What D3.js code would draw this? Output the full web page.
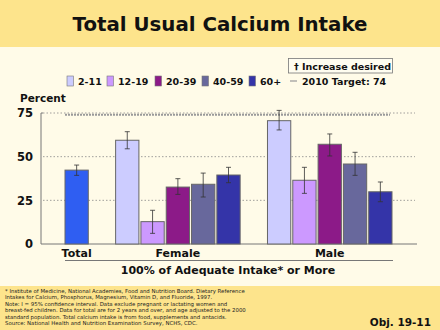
<!DOCTYPE html>
<html lang="en">
<head>
<meta charset="UTF-8"/>
<title>Total Usual Calcium Intake</title>
<script src="https://d3js.org/d3.v7.min.js"></script>
<style>
  body { margin: 0; background: #fffbe8; }
  svg { display: block; font-family: 'DejaVu Sans', Verdana, sans-serif; }
  .bold { font-weight: bold; }
</style>
</head>
<body>
<svg id="chart" width="440" height="330"></svg>
<script>
// data
const ageGroups = ['2-11', '12-19', '20-39', '40-59', '60+'];
const ageColors = ['#ccccff', '#cc99ff', '#8c1a88', '#68689c', '#3434a8'];
const totalColor = '#2f5ef2';

const totalValue = 42.3, totalLow = 39.3, totalHigh = 45.2;
const femaleValues = [59.4, 12.8, 32.6, 34.2, 39.5];
const femaleLow    = [54.5, 6.1, 28.4, 26.9, 35.1];
const femaleHigh   = [64.3, 19.3, 37.4, 40.6, 43.9];
const maleValues   = [70.6, 36.5, 57.1, 45.8, 29.9];
const maleLow      = [65.3, 29.0, 50.4, 39.3, 24.2];
const maleHigh     = [76.5, 43.9, 63.0, 52.5, 35.5];

const target = 74;
const yTicks = [0, 25, 50, 75];

const footnotes = [
  '* Institute of Medicine, National Academies, Food and Nutrition Board. Dietary Reference',
  'Intakes for Calcium, Phosphorus, Magnesium, Vitamin D, and Fluoride, 1997.',
  'Note: I = 95% confidence interval.  Data exclude pregnant or lactating women and',
  'breast-fed children. Data for total are for 2 years and over, and age adjusted to the 2000',
  'standard population. Total calcium intake is from food, supplements and antacids.',
  'Source: National Health and Nutrition Examination Survey, NCHS, CDC.'
];

// build bar rows
const bars = [{key: 'Total', value: totalValue, lo: totalLow, hi: totalHigh, color: totalColor}];
ageGroups.forEach((g, i) => bars.push({key: 'F ' + g, value: femaleValues[i], lo: femaleLow[i], hi: femaleHigh[i], color: ageColors[i]}));
ageGroups.forEach((g, i) => bars.push({key: 'M ' + g, value: maleValues[i], lo: maleLow[i], hi: maleHigh[i], color: ageColors[i]}));

const slots = ['Total', 'gap1'].concat(ageGroups.map(g => 'F ' + g), ['gap2'], ageGroups.map(g => 'M ' + g));

const svg = d3.select('#chart');

// title band
svg.append('rect').attr('x', 0).attr('y', 0).attr('width', 440).attr('height', 47).attr('fill', '#fde48c');
svg.append('text').attr('class', 'bold').attr('x', 220).attr('y', 31)
  .attr('text-anchor', 'middle').attr('font-size', 19.8).attr('fill', '#111')
  .text('Total Usual Calcium Intake');

// footer band
svg.append('rect').attr('x', 0).attr('y', 286).attr('width', 440).attr('height', 44).attr('fill', '#fde48c');
svg.append('g').selectAll('text').data(footnotes).join('text')
  .attr('x', 5).attr('y', (d, i) => 293 + i * 6.4)
  .attr('font-size', 5.4).attr('fill', '#222')
  .text(d => d);
svg.append('text').attr('class', 'bold').attr('x', 431).attr('y', 326)
  .attr('text-anchor', 'end').attr('font-size', 10.5).attr('fill', '#111')
  .text('Obj. 19-11');

// scales
const x = d3.scaleBand().domain(slots).range([65, 392]).paddingInner(0.08).paddingOuter(0);
const y = d3.scaleLinear().domain([0, 75]).range([244, 113]);

// gridlines
svg.append('g').selectAll('line').data(yTicks.filter(d => d > 0)).join('line')
  .attr('x1', 43).attr('x2', 415)
  .attr('y1', d => y(d)).attr('y2', d => y(d))
  .attr('stroke', '#888').attr('stroke-width', 0.8).attr('stroke-dasharray', '1.5,2');

// target line
svg.append('line')
  .attr('x1', x('Total')).attr('x2', x('M 60+') + x.bandwidth() - 2)
  .attr('y1', y(target)).attr('y2', y(target))
  .attr('stroke', '#9a9a9a').attr('stroke-width', 2).attr('stroke-dasharray', '2,1');

// y axis
const yAxis = d3.axisLeft(y).tickValues(yTicks).tickSize(0).tickPadding(8);
const gy = svg.append('g').attr('transform', 'translate(41,0)').call(yAxis);
gy.select('.domain').remove();
gy.selectAll('text').attr('class', 'bold').attr('font-size', 11.5).attr('fill', '#111')
  .attr('font-family', "'DejaVu Sans', Verdana, sans-serif");
svg.append('path').attr('d', `M43,${y(75)}H41V${y(0)}H417`)
  .attr('fill', 'none').attr('stroke', '#777').attr('stroke-width', 1);

svg.append('text').attr('class', 'bold').attr('x', 20).attr('y', 102)
  .attr('font-size', 10.5).attr('fill', '#111').text('Percent');

// bars
svg.append('g').selectAll('rect').data(bars).join('rect')
  .attr('x', d => x(d.key)).attr('width', x.bandwidth())
  .attr('y', d => y(d.value)).attr('height', d => y(0) - y(d.value))
  .attr('fill', d => d.color).attr('stroke', '#666').attr('stroke-width', 1);

// error bars
const eb = svg.append('g').attr('stroke', '#333').attr('stroke-width', 0.8);
bars.forEach(d => {
  const cx = x(d.key) + x.bandwidth() / 2;
  eb.append('line').attr('x1', cx).attr('x2', cx).attr('y1', y(d.hi)).attr('y2', y(d.lo));
  eb.append('line').attr('x1', cx - 2.5).attr('x2', cx + 2.5).attr('y1', y(d.hi)).attr('y2', y(d.hi));
  eb.append('line').attr('x1', cx - 2.5).attr('x2', cx + 2.5).attr('y1', y(d.lo)).attr('y2', y(d.lo));
});

// category labels
const groupCenter = (a, b) => (x(a) + x(b) + x.bandwidth()) / 2;
const groups = [
  {label: 'Total', cx: groupCenter('Total', 'Total')},
  {label: 'Female', cx: groupCenter('F 2-11', 'F 60+')},
  {label: 'Male', cx: groupCenter('M 2-11', 'M 60+')}
];
svg.append('g').selectAll('text').data(groups).join('text')
  .attr('class', 'bold').attr('x', d => d.cx).attr('y', 257)
  .attr('text-anchor', 'middle').attr('font-size', 11).attr('fill', '#111')
  .text(d => d.label);
svg.append('line').attr('x1', x('Total')).attr('x2', 393).attr('y1', 260.5).attr('y2', 260.5)
  .attr('stroke', '#777').attr('stroke-width', 1);
svg.append('text').attr('class', 'bold').attr('x', 228).attr('y', 274)
  .attr('text-anchor', 'middle').attr('font-size', 11).attr('fill', '#111')
  .text('100% of Adequate Intake* or More');

// legend
const legX = [67, 107, 155, 202, 249];
const leg = svg.append('g').selectAll('g').data(ageGroups).join('g')
  .attr('transform', (d, i) => `translate(${legX[i]},76)`);
leg.append('rect').attr('width', 6.5).attr('height', 10)
  .attr('fill', (d, i) => ageColors[i]).attr('stroke', '#777').attr('stroke-width', 0.6);
leg.append('text').attr('class', 'bold').attr('x', 11).attr('y', 9)
  .attr('font-size', 9.5).attr('fill', '#111').text(d => d);

svg.append('line').attr('x1', 290).attr('x2', 297).attr('y1', 81).attr('y2', 81)
  .attr('stroke', '#999').attr('stroke-width', 1.2);
svg.append('text').attr('class', 'bold').attr('x', 302).attr('y', 85)
  .attr('font-size', 9.5).attr('fill', '#111').text('2010 Target: 74');

svg.append('rect').attr('x', 288.5).attr('y', 58.5).attr('width', 104).attr('height', 14.5)
  .attr('fill', '#fffdf0').attr('stroke', '#777').attr('stroke-width', 0.8);
svg.append('text').attr('class', 'bold').attr('x', 294).attr('y', 69.5)
  .attr('font-size', 9.5).attr('fill', '#111').text('\u2020 Increase desired');
</script>
</body>
</html>
